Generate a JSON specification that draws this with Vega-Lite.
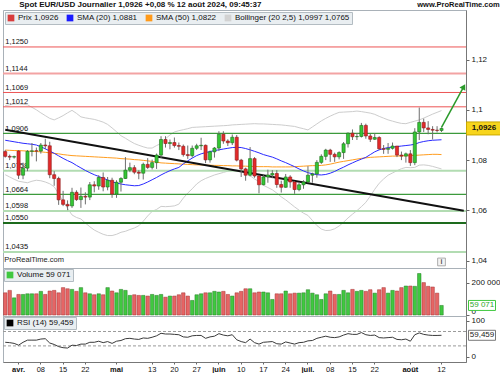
{
"$schema":"https://vega.github.io/schema/vega-lite/v6.json",
"padding":0,
"background":"#ffffff",
"bounds":"flush",
"config":{
 "locale":{"number":{"decimal":",","thousands":" ","grouping":[3],"currency":["","€"]}},
 "font":"Liberation Sans",
 "view":{"stroke":"#a9b1b8","strokeWidth":1},
 "axis":{"labelFontSize":8,"labelColor":"#111","tickColor":"#666","domainColor":"#777","grid":false,"title":null,"tickSize":3,"labelPadding":2},
 "legend":{"orient":"top-left","offset":2,"direction":"horizontal","title":null,"symbolType":"square","symbolSize":45,"symbolOpacity":1,"symbolStrokeWidth":0,"labelFontSize":8,"labelColor":"#111","fillColor":"#e9eef1","strokeColor":"#b3bcc2","padding":2,"columnPadding":7,"labelLimit":400,"labelOffset":3}
},
"datasets":{
"lv":[{"lvl":1.125},{"lvl":1.1144},{"lvl":1.1069},{"lvl":1.1012},{"lvl":1.0906},{"lvl":1.0758},{"lvl":1.0664},{"lvl":1.0598},{"lvl":1.055},{"lvl":1.0435}],
"p":[
{"d":"2024-03-27","o":1.0834,"h":1.0840,"l":1.0810,"c":1.0815,"v":137000,"r":40,"s20":1.0879,"s50":1.0840,"bu":1.1017,"bl":1.0742},
{"d":"2024-03-28","o":1.0815,"h":1.0822,"l":1.0800,"c":1.0812,"v":152000,"r":39,"s20":1.0876,"s50":1.0839,"bu":1.1020,"bl":1.0733},
{"d":"2024-03-29","o":1.0812,"h":1.0818,"l":1.0806,"c":1.0814,"v":106000,"r":37,"s20":1.0873,"s50":1.0838,"bu":1.1023,"bl":1.0724},
{"d":"2024-04-01","o":1.0836,"h":1.0840,"l":1.0725,"c":1.0740,"v":127000,"r":32,"s20":1.0870,"s50":1.0838,"bu":1.1024,"bl":1.0716},
{"d":"2024-04-02","o":1.0740,"h":1.0790,"l":1.0724,"c":1.0768,"v":127000,"r":40,"s20":1.0867,"s50":1.0837,"bu":1.1022,"bl":1.0713},
{"d":"2024-04-03","o":1.0768,"h":1.0840,"l":1.0756,"c":1.0835,"v":131000,"r":46,"s20":1.0865,"s50":1.0836,"bu":1.1020,"bl":1.0710},
{"d":"2024-04-04","o":1.0835,"h":1.0868,"l":1.0815,"c":1.0837,"v":131000,"r":46,"s20":1.0863,"s50":1.0835,"bu":1.1010,"bl":1.0716},
{"d":"2024-04-05","o":1.0837,"h":1.0850,"l":1.0795,"c":1.0836,"v":131000,"r":46,"s20":1.0860,"s50":1.0834,"bu":1.1000,"bl":1.0720},
{"d":"2024-04-08","o":1.0836,"h":1.0868,"l":1.0826,"c":1.0860,"v":146000,"r":49,"s20":1.0853,"s50":1.0833,"bu":1.0988,"bl":1.0718},
{"d":"2024-04-09","o":1.0860,"h":1.0885,"l":1.0843,"c":1.0857,"v":127000,"r":50,"s20":1.0845,"s50":1.0831,"bu":1.0977,"bl":1.0713},
{"d":"2024-04-10","o":1.0857,"h":1.0873,"l":1.0728,"c":1.0742,"v":148000,"r":38,"s20":1.0836,"s50":1.0829,"bu":1.0966,"bl":1.0706},
{"d":"2024-04-11","o":1.0742,"h":1.0756,"l":1.0698,"c":1.0727,"v":152000,"r":34,"s20":1.0827,"s50":1.0827,"bu":1.0960,"bl":1.0694},
{"d":"2024-04-12","o":1.0727,"h":1.0734,"l":1.0622,"c":1.0642,"v":137000,"r":28,"s20":1.0817,"s50":1.0825,"bu":1.0968,"bl":1.0666},
{"d":"2024-04-15","o":1.0642,"h":1.0678,"l":1.0617,"c":1.0624,"v":169000,"r":25,"s20":1.0807,"s50":1.0822,"bu":1.0977,"bl":1.0637},
{"d":"2024-04-16","o":1.0624,"h":1.0640,"l":1.0601,"c":1.0618,"v":162000,"r":24,"s20":1.0798,"s50":1.0820,"bu":1.0988,"bl":1.0608},
{"d":"2024-04-17","o":1.0618,"h":1.0690,"l":1.0610,"c":1.0672,"v":158000,"r":32,"s20":1.0790,"s50":1.0818,"bu":1.0998,"bl":1.0582},
{"d":"2024-04-18","o":1.0672,"h":1.0680,"l":1.0638,"c":1.0643,"v":146000,"r":31,"s20":1.0779,"s50":1.0817,"bu":1.0986,"bl":1.0572},
{"d":"2024-04-19","o":1.0643,"h":1.0691,"l":1.0610,"c":1.0656,"v":169000,"r":35,"s20":1.0769,"s50":1.0816,"bu":1.0972,"bl":1.0566},
{"d":"2024-04-22","o":1.0656,"h":1.0672,"l":1.0624,"c":1.0653,"v":137000,"r":35,"s20":1.0759,"s50":1.0815,"bu":1.0968,"bl":1.0550},
{"d":"2024-04-23","o":1.0653,"h":1.0713,"l":1.0641,"c":1.0702,"v":131000,"r":40,"s20":1.0750,"s50":1.0814,"bu":1.0965,"bl":1.0535},
{"d":"2024-04-24","o":1.0702,"h":1.0716,"l":1.0672,"c":1.0697,"v":125000,"r":40,"s20":1.0742,"s50":1.0813,"bu":1.0962,"bl":1.0522},
{"d":"2024-04-25","o":1.0697,"h":1.0740,"l":1.0682,"c":1.0731,"v":131000,"r":43,"s20":1.0735,"s50":1.0812,"bu":1.0957,"bl":1.0513},
{"d":"2024-04-26","o":1.0731,"h":1.0751,"l":1.0676,"c":1.0693,"v":125000,"r":39,"s20":1.0728,"s50":1.0811,"bu":1.0951,"bl":1.0505},
{"d":"2024-04-29","o":1.0693,"h":1.0733,"l":1.0680,"c":1.0720,"v":169000,"r":42,"s20":1.0721,"s50":1.0810,"bu":1.0942,"bl":1.0500},
{"d":"2024-04-30","o":1.0720,"h":1.0730,"l":1.0650,"c":1.0665,"v":148000,"r":37,"s20":1.0714,"s50":1.0809,"bu":1.0928,"bl":1.0500},
{"d":"2024-05-01","o":1.0665,"h":1.0720,"l":1.0650,"c":1.0712,"v":137000,"r":43,"s20":1.0709,"s50":1.0808,"bu":1.0913,"bl":1.0505},
{"d":"2024-05-02","o":1.0712,"h":1.0732,"l":1.0675,"c":1.0727,"v":158000,"r":45,"s20":1.0705,"s50":1.0806,"bu":1.0897,"bl":1.0513},
{"d":"2024-05-03","o":1.0727,"h":1.0812,"l":1.0725,"c":1.0760,"v":152000,"r":50,"s20":1.0702,"s50":1.0805,"bu":1.0887,"bl":1.0517},
{"d":"2024-05-06","o":1.0760,"h":1.0790,"l":1.0752,"c":1.0770,"v":121000,"r":51,"s20":1.0700,"s50":1.0804,"bu":1.0876,"bl":1.0524},
{"d":"2024-05-07","o":1.0770,"h":1.0780,"l":1.0744,"c":1.0752,"v":125000,"r":49,"s20":1.0698,"s50":1.0802,"bu":1.0866,"bl":1.0530},
{"d":"2024-05-08","o":1.0752,"h":1.0760,"l":1.0724,"c":1.0748,"v":121000,"r":48,"s20":1.0699,"s50":1.0801,"bu":1.0859,"bl":1.0539},
{"d":"2024-05-09","o":1.0748,"h":1.0790,"l":1.0723,"c":1.0783,"v":121000,"r":52,"s20":1.0705,"s50":1.0799,"bu":1.0853,"bl":1.0557},
{"d":"2024-05-10","o":1.0783,"h":1.0808,"l":1.0765,"c":1.0771,"v":117000,"r":51,"s20":1.0713,"s50":1.0797,"bu":1.0848,"bl":1.0578},
{"d":"2024-05-13","o":1.0771,"h":1.0802,"l":1.0763,"c":1.0790,"v":127000,"r":54,"s20":1.0722,"s50":1.0795,"bu":1.0848,"bl":1.0596},
{"d":"2024-05-14","o":1.0790,"h":1.0826,"l":1.0765,"c":1.0820,"v":121000,"r":58,"s20":1.0731,"s50":1.0792,"bu":1.0858,"bl":1.0604},
{"d":"2024-05-15","o":1.0820,"h":1.0895,"l":1.0809,"c":1.0882,"v":127000,"r":65,"s20":1.0741,"s50":1.0789,"bu":1.0866,"bl":1.0616},
{"d":"2024-05-16","o":1.0882,"h":1.0895,"l":1.0850,"c":1.0866,"v":110000,"r":63,"s20":1.0750,"s50":1.0788,"bu":1.0885,"bl":1.0615},
{"d":"2024-05-17","o":1.0866,"h":1.0882,"l":1.0843,"c":1.0870,"v":117000,"r":63,"s20":1.0758,"s50":1.0787,"bu":1.0900,"bl":1.0616},
{"d":"2024-05-20","o":1.0870,"h":1.0890,"l":1.0850,"c":1.0858,"v":117000,"r":62,"s20":1.0765,"s50":1.0786,"bu":1.0912,"bl":1.0618},
{"d":"2024-05-21","o":1.0858,"h":1.0870,"l":1.0840,"c":1.0855,"v":125000,"r":61,"s20":1.0771,"s50":1.0785,"bu":1.0917,"bl":1.0625},
{"d":"2024-05-22","o":1.0855,"h":1.0862,"l":1.0814,"c":1.0822,"v":137000,"r":55,"s20":1.0785,"s50":1.0784,"bu":1.0921,"bl":1.0649},
{"d":"2024-05-23","o":1.0822,"h":1.0858,"l":1.0805,"c":1.0818,"v":117000,"r":54,"s20":1.0797,"s50":1.0783,"bu":1.0925,"bl":1.0669},
{"d":"2024-05-24","o":1.0818,"h":1.0858,"l":1.0810,"c":1.0847,"v":90000,"r":58,"s20":1.0808,"s50":1.0782,"bu":1.0930,"bl":1.0686},
{"d":"2024-05-27","o":1.0847,"h":1.0865,"l":1.0840,"c":1.0857,"v":125000,"r":59,"s20":1.0818,"s50":1.0781,"bu":1.0931,"bl":1.0705},
{"d":"2024-05-28","o":1.0857,"h":1.0889,"l":1.0840,"c":1.0859,"v":131000,"r":59,"s20":1.0825,"s50":1.0781,"bu":1.0932,"bl":1.0718},
{"d":"2024-05-29","o":1.0859,"h":1.0862,"l":1.0788,"c":1.0801,"v":137000,"r":51,"s20":1.0830,"s50":1.0780,"bu":1.0933,"bl":1.0727},
{"d":"2024-05-30","o":1.0801,"h":1.0838,"l":1.0790,"c":1.0833,"v":137000,"r":55,"s20":1.0834,"s50":1.0780,"bu":1.0934,"bl":1.0734},
{"d":"2024-05-31","o":1.0833,"h":1.0852,"l":1.0810,"c":1.0848,"v":146000,"r":57,"s20":1.0838,"s50":1.0779,"bu":1.0935,"bl":1.0741},
{"d":"2024-06-03","o":1.0848,"h":1.0915,"l":1.0836,"c":1.0903,"v":142000,"r":64,"s20":1.0841,"s50":1.0779,"bu":1.0936,"bl":1.0746},
{"d":"2024-06-04","o":1.0903,"h":1.0915,"l":1.0865,"c":1.0876,"v":146000,"r":60,"s20":1.0844,"s50":1.0778,"bu":1.0937,"bl":1.0751},
{"d":"2024-06-05","o":1.0876,"h":1.0883,"l":1.0856,"c":1.0869,"v":127000,"r":58,"s20":1.0847,"s50":1.0778,"bu":1.0938,"bl":1.0756},
{"d":"2024-06-06","o":1.0869,"h":1.0902,"l":1.0860,"c":1.0891,"v":117000,"r":61,"s20":1.0850,"s50":1.0777,"bu":1.0940,"bl":1.0760},
{"d":"2024-06-07","o":1.0891,"h":1.0900,"l":1.0795,"c":1.0800,"v":137000,"r":47,"s20":1.0851,"s50":1.0777,"bu":1.0941,"bl":1.0761},
{"d":"2024-06-10","o":1.0800,"h":1.0805,"l":1.0733,"c":1.0765,"v":146000,"r":42,"s20":1.0850,"s50":1.0776,"bu":1.0942,"bl":1.0758},
{"d":"2024-06-11","o":1.0765,"h":1.0770,"l":1.0718,"c":1.0740,"v":162000,"r":39,"s20":1.0846,"s50":1.0776,"bu":1.0943,"bl":1.0749},
{"d":"2024-06-12","o":1.0740,"h":1.0852,"l":1.0735,"c":1.0806,"v":162000,"r":49,"s20":1.0841,"s50":1.0775,"bu":1.0944,"bl":1.0738},
{"d":"2024-06-13","o":1.0806,"h":1.0812,"l":1.0730,"c":1.0737,"v":137000,"r":39,"s20":1.0835,"s50":1.0775,"bu":1.0945,"bl":1.0725},
{"d":"2024-06-14","o":1.0737,"h":1.0740,"l":1.0668,"c":1.0702,"v":142000,"r":35,"s20":1.0829,"s50":1.0774,"bu":1.0944,"bl":1.0714},
{"d":"2024-06-17","o":1.0702,"h":1.0740,"l":1.0700,"c":1.0733,"v":142000,"r":40,"s20":1.0822,"s50":1.0774,"bu":1.0944,"bl":1.0700},
{"d":"2024-06-18","o":1.0733,"h":1.0762,"l":1.0710,"c":1.0741,"v":137000,"r":41,"s20":1.0817,"s50":1.0774,"bu":1.0943,"bl":1.0691},
{"d":"2024-06-19","o":1.0741,"h":1.0760,"l":1.0728,"c":1.0747,"v":96000,"r":42,"s20":1.0812,"s50":1.0773,"bu":1.0942,"bl":1.0682},
{"d":"2024-06-20","o":1.0747,"h":1.0760,"l":1.0690,"c":1.0703,"v":131000,"r":36,"s20":1.0805,"s50":1.0773,"bu":1.0941,"bl":1.0669},
{"d":"2024-06-21","o":1.0703,"h":1.0718,"l":1.0671,"c":1.0692,"v":131000,"r":35,"s20":1.0797,"s50":1.0773,"bu":1.0940,"bl":1.0654},
{"d":"2024-06-24","o":1.0692,"h":1.0745,"l":1.0690,"c":1.0733,"v":148000,"r":41,"s20":1.0790,"s50":1.0773,"bu":1.0938,"bl":1.0642},
{"d":"2024-06-25","o":1.0733,"h":1.0740,"l":1.0690,"c":1.0713,"v":131000,"r":38,"s20":1.0782,"s50":1.0773,"bu":1.0936,"bl":1.0628},
{"d":"2024-06-26","o":1.0713,"h":1.0717,"l":1.0666,"c":1.0683,"v":135000,"r":35,"s20":1.0774,"s50":1.0774,"bu":1.0934,"bl":1.0614},
{"d":"2024-06-27","o":1.0683,"h":1.0712,"l":1.0676,"c":1.0702,"v":135000,"r":39,"s20":1.0765,"s50":1.0775,"bu":1.0929,"bl":1.0601},
{"d":"2024-06-28","o":1.0702,"h":1.0720,"l":1.0686,"c":1.0713,"v":137000,"r":40,"s20":1.0757,"s50":1.0776,"bu":1.0925,"bl":1.0589},
{"d":"2024-07-01","o":1.0713,"h":1.0776,"l":1.0710,"c":1.0740,"v":156000,"r":44,"s20":1.0750,"s50":1.0777,"bu":1.0920,"bl":1.0580},
{"d":"2024-07-02","o":1.0740,"h":1.0750,"l":1.0710,"c":1.0745,"v":135000,"r":45,"s20":1.0746,"s50":1.0778,"bu":1.0932,"bl":1.0560},
{"d":"2024-07-03","o":1.0745,"h":1.0800,"l":1.0730,"c":1.0791,"v":125000,"r":51,"s20":1.0742,"s50":1.0778,"bu":1.0944,"bl":1.0540},
{"d":"2024-07-04","o":1.0791,"h":1.0823,"l":1.0785,"c":1.0815,"v":96000,"r":54,"s20":1.0741,"s50":1.0779,"bu":1.0956,"bl":1.0526},
{"d":"2024-07-05","o":1.0815,"h":1.0845,"l":1.0800,"c":1.0840,"v":131000,"r":57,"s20":1.0743,"s50":1.0781,"bu":1.0966,"bl":1.0520},
{"d":"2024-07-08","o":1.0840,"h":1.0845,"l":1.0793,"c":1.0823,"v":148000,"r":54,"s20":1.0748,"s50":1.0784,"bu":1.0975,"bl":1.0521},
{"d":"2024-07-09","o":1.0823,"h":1.0830,"l":1.0793,"c":1.0813,"v":127000,"r":53,"s20":1.0755,"s50":1.0788,"bu":1.0983,"bl":1.0527},
{"d":"2024-07-10","o":1.0813,"h":1.0835,"l":1.0803,"c":1.0830,"v":127000,"r":55,"s20":1.0764,"s50":1.0792,"bu":1.0990,"bl":1.0538},
{"d":"2024-07-11","o":1.0830,"h":1.0872,"l":1.0805,"c":1.0865,"v":152000,"r":60,"s20":1.0772,"s50":1.0795,"bu":1.0991,"bl":1.0553},
{"d":"2024-07-12","o":1.0865,"h":1.0910,"l":1.0850,"c":1.0907,"v":137000,"r":64,"s20":1.0781,"s50":1.0798,"bu":1.0992,"bl":1.0570},
{"d":"2024-07-15","o":1.0907,"h":1.0922,"l":1.0880,"c":1.0893,"v":158000,"r":62,"s20":1.0789,"s50":1.0801,"bu":1.0993,"bl":1.0585},
{"d":"2024-07-16","o":1.0893,"h":1.0908,"l":1.0880,"c":1.0894,"v":146000,"r":62,"s20":1.0797,"s50":1.0804,"bu":1.0995,"bl":1.0599},
{"d":"2024-07-17","o":1.0894,"h":1.0948,"l":1.0890,"c":1.0938,"v":152000,"r":67,"s20":1.0804,"s50":1.0807,"bu":1.0993,"bl":1.0615},
{"d":"2024-07-18","o":1.0938,"h":1.0945,"l":1.0885,"c":1.0896,"v":146000,"r":61,"s20":1.0811,"s50":1.0809,"bu":1.0990,"bl":1.0632},
{"d":"2024-07-19","o":1.0896,"h":1.0904,"l":1.0872,"c":1.0883,"v":156000,"r":59,"s20":1.0822,"s50":1.0811,"bu":1.0987,"bl":1.0657},
{"d":"2024-07-22","o":1.0883,"h":1.0907,"l":1.0880,"c":1.0890,"v":135000,"r":60,"s20":1.0833,"s50":1.0812,"bu":1.0982,"bl":1.0684},
{"d":"2024-07-23","o":1.0890,"h":1.0895,"l":1.0840,"c":1.0845,"v":156000,"r":53,"s20":1.0841,"s50":1.0813,"bu":1.0974,"bl":1.0708},
{"d":"2024-07-24","o":1.0845,"h":1.0860,"l":1.0825,"c":1.0843,"v":169000,"r":52,"s20":1.0846,"s50":1.0814,"bu":1.0967,"bl":1.0725},
{"d":"2024-07-25","o":1.0843,"h":1.0868,"l":1.0825,"c":1.0847,"v":135000,"r":53,"s20":1.0850,"s50":1.0815,"bu":1.0960,"bl":1.0740},
{"d":"2024-07-26","o":1.0847,"h":1.0870,"l":1.0842,"c":1.0856,"v":152000,"r":54,"s20":1.0852,"s50":1.0816,"bu":1.0955,"bl":1.0749},
{"d":"2024-07-29","o":1.0856,"h":1.0856,"l":1.0812,"c":1.0820,"v":148000,"r":48,"s20":1.0854,"s50":1.0816,"bu":1.0950,"bl":1.0758},
{"d":"2024-07-30","o":1.0820,"h":1.0834,"l":1.0800,"c":1.0816,"v":169000,"r":47,"s20":1.0856,"s50":1.0817,"bu":1.0946,"bl":1.0766},
{"d":"2024-07-31","o":1.0816,"h":1.0830,"l":1.0790,"c":1.0825,"v":179000,"r":49,"s20":1.0858,"s50":1.0817,"bu":1.0945,"bl":1.0771},
{"d":"2024-08-01","o":1.0825,"h":1.0840,"l":1.0777,"c":1.0790,"v":179000,"r":43,"s20":1.0860,"s50":1.0818,"bu":1.0950,"bl":1.0770},
{"d":"2024-08-02","o":1.0790,"h":1.0927,"l":1.0780,"c":1.0912,"v":177000,"r":61,"s20":1.0863,"s50":1.0819,"bu":1.0955,"bl":1.0771},
{"d":"2024-08-05","o":1.0912,"h":1.1009,"l":1.0880,"c":1.0950,"v":256000,"r":66,"s20":1.0870,"s50":1.0820,"bu":1.0960,"bl":1.0780},
{"d":"2024-08-06","o":1.0950,"h":1.0965,"l":1.0912,"c":1.0928,"v":200000,"r":62,"s20":1.0874,"s50":1.0821,"bu":1.0967,"bl":1.0781},
{"d":"2024-08-07","o":1.0928,"h":1.0955,"l":1.0903,"c":1.0922,"v":177000,"r":60,"s20":1.0877,"s50":1.0822,"bu":1.0975,"bl":1.0779},
{"d":"2024-08-08","o":1.0922,"h":1.0935,"l":1.0882,"c":1.0919,"v":173000,"r":59,"s20":1.0879,"s50":1.0823,"bu":1.0983,"bl":1.0775},
{"d":"2024-08-09","o":1.0919,"h":1.0935,"l":1.0910,"c":1.0918,"v":135000,"r":59,"s20":1.0880,"s50":1.0823,"bu":1.0990,"bl":1.0770},
{"d":"2024-08-12","o":1.0918,"h":1.0930,"l":1.0912,"c":1.0926,"v":59071,"r":59.459,"s20":1.0881,"s50":1.0822,"bu":1.0997,"bl":1.0765}
]},
"spacing":0,
"resolve":{"scale":{"x":"independent","y":"independent","color":"independent"},"legend":{"color":"independent"}},
"vconcat":[
{"width":463,"height":258,"data":{"name":"p"},
 "layer":[
  {"mark":{"type":"line","color":"#cdcdcd","strokeWidth":1},"encoding":{"x":{"field":"d","type":"ordinal","axis":null},"y":{"field":"bu","type":"quantitative","scale":{"domain":[1.0371,1.1397],"nice":false,"zero":false},"axis":{"orient":"right","values":[1.04,1.05,1.06,1.07,1.08,1.09,1.1,1.11,1.12,1.13],"format":".2~f"}}}},
  {"mark":{"type":"line","color":"#cdcdcd","strokeWidth":1},"encoding":{"x":{"field":"d","type":"ordinal","axis":null},"y":{"field":"bl","type":"quantitative"}}},
  {"data":{"name":"lv"},"transform":[{"filter":{"field":"lvl","oneOf":[1.125,1.1069,1.1012]}}],"mark":{"type":"rule","color":"#ec5454","strokeWidth":1},"encoding":{"y":{"field":"lvl","type":"quantitative"}}},
  {"data":{"name":"lv"},"transform":[{"filter":{"field":"lvl","oneOf":[1.1144]}}],"mark":{"type":"rule","color":"#f3a3a3","strokeWidth":2},"encoding":{"y":{"field":"lvl","type":"quantitative"}}},
  {"data":{"name":"lv"},"transform":[{"filter":{"field":"lvl","oneOf":[1.0906,1.0664]}}],"mark":{"type":"rule","color":"#3c9a3c","strokeWidth":1.2},"encoding":{"y":{"field":"lvl","type":"quantitative"}}},
  {"data":{"name":"lv"},"transform":[{"filter":{"field":"lvl","oneOf":[1.0758,1.0598,1.0435]}}],"mark":{"type":"rule","color":"#b2dcb2","strokeWidth":2},"encoding":{"y":{"field":"lvl","type":"quantitative"}}},
  {"data":{"name":"lv"},"transform":[{"filter":{"field":"lvl","oneOf":[1.055]}}],"mark":{"type":"rule","color":"#1d6b1d","strokeWidth":2},"encoding":{"y":{"field":"lvl","type":"quantitative"}}},
  {"data":{"name":"lv"},"mark":{"type":"text","align":"left","baseline":"bottom","dy":-0.5,"fontSize":7.5,"color":"#111"},"encoding":{"x":{"datum":"2024-03-27","type":"ordinal"},"y":{"field":"lvl","type":"quantitative"},"text":{"field":"lvl","type":"quantitative","format":".4f"}}},
  {"mark":{"type":"line","color":"#ff9d1f","strokeWidth":1},"encoding":{"x":{"field":"d","type":"ordinal"},"y":{"field":"s50","type":"quantitative"}}},
  {"mark":{"type":"line","color":"#2a2aff","strokeWidth":1},"encoding":{"x":{"field":"d","type":"ordinal"},"y":{"field":"s20","type":"quantitative"}}},
  {"data":{"values":[{"d":"2024-03-27","v":1.0921},{"d":"2024-08-19","v":1.0599}]},"mark":{"type":"line","color":"#111111","strokeWidth":2},"encoding":{"x":{"field":"d","type":"ordinal"},"y":{"field":"v","type":"quantitative"}}},
  {"mark":{"type":"rule","color":"#6e6e6e","strokeWidth":1},"encoding":{"x":{"field":"d","type":"ordinal"},"y":{"field":"l","type":"quantitative"},"y2":{"field":"h"}}},
  {"mark":{"type":"bar","strokeWidth":0.6},"encoding":{"x":{"field":"d","type":"ordinal","axis":null,"scale":{"type":"band","paddingInner":0.3,"paddingOuter":0.15,"domain":["2024-03-27","2024-03-28","2024-03-29","2024-04-01","2024-04-02","2024-04-03","2024-04-04","2024-04-05","2024-04-08","2024-04-09","2024-04-10","2024-04-11","2024-04-12","2024-04-15","2024-04-16","2024-04-17","2024-04-18","2024-04-19","2024-04-22","2024-04-23","2024-04-24","2024-04-25","2024-04-26","2024-04-29","2024-04-30","2024-05-01","2024-05-02","2024-05-03","2024-05-06","2024-05-07","2024-05-08","2024-05-09","2024-05-10","2024-05-13","2024-05-14","2024-05-15","2024-05-16","2024-05-17","2024-05-20","2024-05-21","2024-05-22","2024-05-23","2024-05-24","2024-05-27","2024-05-28","2024-05-29","2024-05-30","2024-05-31","2024-06-03","2024-06-04","2024-06-05","2024-06-06","2024-06-07","2024-06-10","2024-06-11","2024-06-12","2024-06-13","2024-06-14","2024-06-17","2024-06-18","2024-06-19","2024-06-20","2024-06-21","2024-06-24","2024-06-25","2024-06-26","2024-06-27","2024-06-28","2024-07-01","2024-07-02","2024-07-03","2024-07-04","2024-07-05","2024-07-08","2024-07-09","2024-07-10","2024-07-11","2024-07-12","2024-07-15","2024-07-16","2024-07-17","2024-07-18","2024-07-19","2024-07-22","2024-07-23","2024-07-24","2024-07-25","2024-07-26","2024-07-29","2024-07-30","2024-07-31","2024-08-01","2024-08-02","2024-08-05","2024-08-06","2024-08-07","2024-08-08","2024-08-09","2024-08-12","2024-08-13","2024-08-14","2024-08-15","2024-08-16","2024-08-19"]}},"y":{"field":"o","type":"quantitative"},"y2":{"field":"c"},"fill":{"condition":{"test":"datum.c >= datum.o","value":"#34c634"},"value":"#e42a2a"},"stroke":{"condition":{"test":"datum.c >= datum.o","value":"#1d6e1d"},"value":"#8c1c1c"}}},
  {"data":{"values":[{"d":"2024-08-12","v":1.0930},{"d":"2024-08-19","v":1.1092}]},"mark":{"type":"line","color":"#2a9a2a","strokeWidth":1.5},"encoding":{"x":{"field":"d","type":"ordinal"},"y":{"field":"v","type":"quantitative"}}},
  {"data":{"values":[{"d":"2024-08-19","v":1.1092}]},"mark":{"type":"point","shape":"triangle-up","filled":true,"color":"#2a9a2a","size":45,"angle":29,"opacity":1},"encoding":{"x":{"field":"d","type":"ordinal"},"y":{"field":"v","type":"quantitative"}}},
  {"transform":[{"fold":["o","s20","s50","bu"],"as":["k","val"]}],"mark":{"type":"square","opacity":0},"encoding":{"x":{"field":"d","type":"ordinal"},"y":{"field":"val","type":"quantitative"},"color":{"field":"k","type":"nominal","scale":{"domain":["o","s20","s50","bu"],"range":["#d83c3c","#1a1aff","#ff9a1a","#d2d2d2"]},"legend":{"labelExpr":"datum.value == 'o' ? 'Prix 1,0926' : datum.value == 's20' ? 'SMA (20) 1,0881' : datum.value == 's50' ? 'SMA (50) 1,0822' : 'Bollinger (20 2,5) 1,0997 1,0765'"}}}},
  {"data":{"values":[{"t":"Spot EUR/USD Journalier 1,0926 +0,08 % 12 août 2024, 09:45:37"}]},"mark":{"type":"text","align":"left","baseline":"bottom","dy":-1.5,"dx":14,"fontSize":8,"fontWeight":"bold","color":"#111"},"encoding":{"x":{"datum":"2024-03-27","type":"ordinal"},"y":{"datum":1.1397,"type":"quantitative"},"text":{"field":"t"}}},
  {"data":{"values":[{"t":"www.ProRealTime.com"}]},"mark":{"type":"text","align":"right","baseline":"bottom","dy":-1.5,"dx":36,"fontSize":7.5,"fontWeight":"bold","color":"#111"},"encoding":{"x":{"datum":"2024-08-19","type":"ordinal"},"y":{"datum":1.1397,"type":"quantitative"},"text":{"field":"t"}}},
  {"data":{"values":[{"t":"ProRealTime.com"}]},"mark":{"type":"text","align":"left","baseline":"bottom","dy":-4,"dx":-1,"fontSize":7.5,"color":"#222"},"encoding":{"x":{"datum":"2024-03-27","type":"ordinal"},"y":{"datum":1.0371,"type":"quantitative"},"text":{"field":"t"}}},
  {"data":{"values":[{"d":"2024-08-12","v":1.0395}]},"mark":{"type":"point","shape":"square","size":60,"filled":true,"fill":"#f4f4f4","stroke":"#999999","strokeWidth":0.8,"opacity":1},"encoding":{"x":{"field":"d","type":"ordinal"},"y":{"field":"v","type":"quantitative"}}},
  {"data":{"values":[{"d":"2024-08-12","v":1.0395,"t":"i"}]},"mark":{"type":"text","fontSize":7,"fontWeight":"bold","color":"#555"},"encoding":{"x":{"field":"d","type":"ordinal"},"y":{"field":"v","type":"quantitative"},"text":{"field":"t"}}},
  {"data":{"values":[{"d":"2024-08-12","v":1.0926}]},"mark":{"type":"point","shape":"M25,-6.5H60V6.5H25Z","size":4,"filled":true,"fill":"#f7d51d","stroke":"#c9a800","strokeWidth":1,"opacity":1},"encoding":{"x":{"field":"d","type":"ordinal"},"y":{"field":"v","type":"quantitative"}}},
  {"data":{"values":[{"d":"2024-08-12","v":1.0926}]},"mark":{"type":"text","dx":42.5,"fontSize":8,"fontWeight":"bold","color":"#111"},"encoding":{"x":{"field":"d","type":"ordinal"},"y":{"field":"v","type":"quantitative"},"text":{"field":"v","type":"quantitative","format":".4f"}}}
 ]},
{"width":463,"height":48,"data":{"name":"p"},
 "layer":[
  {"mark":{"type":"bar","strokeWidth":0.5},"encoding":{"x":{"field":"d","type":"ordinal","axis":null,"scale":{"type":"band","paddingInner":0.22,"paddingOuter":0.11,"domain":["2024-03-27","2024-03-28","2024-03-29","2024-04-01","2024-04-02","2024-04-03","2024-04-04","2024-04-05","2024-04-08","2024-04-09","2024-04-10","2024-04-11","2024-04-12","2024-04-15","2024-04-16","2024-04-17","2024-04-18","2024-04-19","2024-04-22","2024-04-23","2024-04-24","2024-04-25","2024-04-26","2024-04-29","2024-04-30","2024-05-01","2024-05-02","2024-05-03","2024-05-06","2024-05-07","2024-05-08","2024-05-09","2024-05-10","2024-05-13","2024-05-14","2024-05-15","2024-05-16","2024-05-17","2024-05-20","2024-05-21","2024-05-22","2024-05-23","2024-05-24","2024-05-27","2024-05-28","2024-05-29","2024-05-30","2024-05-31","2024-06-03","2024-06-04","2024-06-05","2024-06-06","2024-06-07","2024-06-10","2024-06-11","2024-06-12","2024-06-13","2024-06-14","2024-06-17","2024-06-18","2024-06-19","2024-06-20","2024-06-21","2024-06-24","2024-06-25","2024-06-26","2024-06-27","2024-06-28","2024-07-01","2024-07-02","2024-07-03","2024-07-04","2024-07-05","2024-07-08","2024-07-09","2024-07-10","2024-07-11","2024-07-12","2024-07-15","2024-07-16","2024-07-17","2024-07-18","2024-07-19","2024-07-22","2024-07-23","2024-07-24","2024-07-25","2024-07-26","2024-07-29","2024-07-30","2024-07-31","2024-08-01","2024-08-02","2024-08-05","2024-08-06","2024-08-07","2024-08-08","2024-08-09","2024-08-12","2024-08-13","2024-08-14","2024-08-15","2024-08-16","2024-08-19"]}},"y":{"field":"v","type":"quantitative","scale":{"domain":[-6000,290000],"nice":false,"zero":false},"axis":{"orient":"right","values":[0,100000,200000],"format":",d","labelBaseline":{"condition":{"test":"datum.value == 0","value":"bottom"},"value":"middle"}}},"y2":{"datum":0},"fill":{"condition":{"test":"datum.c >= datum.o","value":"#40c840"},"value":"#e66565"},"stroke":{"condition":{"test":"datum.c >= datum.o","value":"#237a23"},"value":"#a33030"}}},
  {"mark":{"type":"square","opacity":0},"encoding":{"x":{"field":"d","type":"ordinal"},"y":{"field":"v","type":"quantitative"},"color":{"datum":"Volume 59 071","type":"nominal","scale":{"range":["#40c840"]},"legend":{"offset":1}}}},
  {"data":{"values":[{"d":"2024-08-12","v":59071}]},"mark":{"type":"point","shape":"M27,-5H54V5H27Z","size":4,"filled":true,"fill":"#ffffff","stroke":"#40c840","strokeWidth":1,"opacity":1},"encoding":{"x":{"field":"d","type":"ordinal"},"y":{"field":"v","type":"quantitative"}}},
  {"data":{"values":[{"d":"2024-08-12","v":59071}]},"mark":{"type":"text","dx":40.5,"fontSize":8,"color":"#2ea82e"},"encoding":{"x":{"field":"d","type":"ordinal"},"y":{"field":"v","type":"quantitative"},"text":{"field":"v","type":"quantitative","format":",d"}}}
 ]},
{"width":463,"height":46,"data":{"name":"p"},
 "layer":[
  {"data":{"values":[{"lv":70},{"lv":30}]},"mark":{"type":"rule","color":"#9a9a9a","strokeDash":[3,2],"strokeWidth":1},"encoding":{"y":{"field":"lv","type":"quantitative","scale":{"domain":[-14.7,113],"nice":false,"zero":false},"axis":{"orient":"right","values":[0,50,100]}}}},
  {"mark":{"type":"line","color":"#3a3a3a","strokeWidth":1},"encoding":{"x":{"field":"d","type":"ordinal","scale":{"type":"band","paddingInner":0.3,"paddingOuter":0.15,"domain":["2024-03-27","2024-03-28","2024-03-29","2024-04-01","2024-04-02","2024-04-03","2024-04-04","2024-04-05","2024-04-08","2024-04-09","2024-04-10","2024-04-11","2024-04-12","2024-04-15","2024-04-16","2024-04-17","2024-04-18","2024-04-19","2024-04-22","2024-04-23","2024-04-24","2024-04-25","2024-04-26","2024-04-29","2024-04-30","2024-05-01","2024-05-02","2024-05-03","2024-05-06","2024-05-07","2024-05-08","2024-05-09","2024-05-10","2024-05-13","2024-05-14","2024-05-15","2024-05-16","2024-05-17","2024-05-20","2024-05-21","2024-05-22","2024-05-23","2024-05-24","2024-05-27","2024-05-28","2024-05-29","2024-05-30","2024-05-31","2024-06-03","2024-06-04","2024-06-05","2024-06-06","2024-06-07","2024-06-10","2024-06-11","2024-06-12","2024-06-13","2024-06-14","2024-06-17","2024-06-18","2024-06-19","2024-06-20","2024-06-21","2024-06-24","2024-06-25","2024-06-26","2024-06-27","2024-06-28","2024-07-01","2024-07-02","2024-07-03","2024-07-04","2024-07-05","2024-07-08","2024-07-09","2024-07-10","2024-07-11","2024-07-12","2024-07-15","2024-07-16","2024-07-17","2024-07-18","2024-07-19","2024-07-22","2024-07-23","2024-07-24","2024-07-25","2024-07-26","2024-07-29","2024-07-30","2024-07-31","2024-08-01","2024-08-02","2024-08-05","2024-08-06","2024-08-07","2024-08-08","2024-08-09","2024-08-12","2024-08-13","2024-08-14","2024-08-15","2024-08-16","2024-08-19"]},"axis":{"orient":"bottom","values":["2024-04-01","2024-04-08","2024-04-15","2024-04-22","2024-05-01","2024-05-13","2024-05-20","2024-05-27","2024-06-03","2024-06-10","2024-06-17","2024-06-24","2024-07-01","2024-07-08","2024-07-15","2024-07-22","2024-08-01","2024-08-12"],"labelExpr":"datum.value == '2024-04-01' ? 'avr.' : datum.value == '2024-05-01' ? 'mai' : datum.value == '2024-06-03' ? 'juin' : datum.value == '2024-07-01' ? 'juil.' : datum.value == '2024-08-01' ? 'août' : substring(datum.value, 8, 10)","labelAngle":0,"labelOverlap":false,"labelFontSize":7.5,"tickSize":2,"labelPadding":1,"labelFontWeight":{"condition":{"test":"indexof(['2024-04-01','2024-05-01','2024-06-03','2024-07-01','2024-08-01'], datum.value) >= 0","value":"bold"},"value":"normal"}}},"y":{"field":"r","type":"quantitative"}}},
  {"mark":{"type":"square","opacity":0},"encoding":{"x":{"field":"d","type":"ordinal"},"y":{"field":"r","type":"quantitative"},"color":{"datum":"RSI (14) 59,459","type":"nominal","scale":{"range":["#000000"]},"legend":{"offset":1}}}},
  {"data":{"values":[{"d":"2024-08-12","v":59.459}]},"mark":{"type":"point","shape":"M27,-5H54V5H27Z","size":4,"filled":true,"fill":"#ffffff","stroke":"#777777","strokeWidth":1,"opacity":1},"encoding":{"x":{"field":"d","type":"ordinal"},"y":{"field":"v","type":"quantitative"}}},
  {"data":{"values":[{"d":"2024-08-12","v":59.459}]},"mark":{"type":"text","dx":40.5,"fontSize":8,"color":"#222"},"encoding":{"x":{"field":"d","type":"ordinal"},"y":{"field":"v","type":"quantitative"},"text":{"field":"v","type":"quantitative","format":".3f"}}}
 ]}
]
}
